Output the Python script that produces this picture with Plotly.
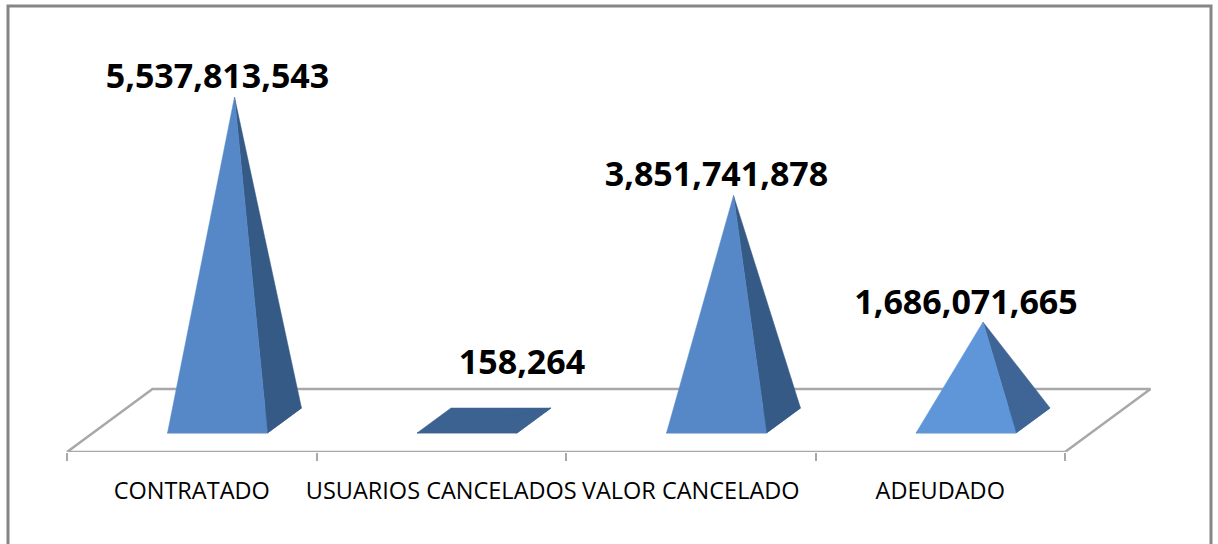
import plotly.graph_objects as go

# data
categories = ["CONTRATADO", "USUARIOS CANCELADOS", "VALOR CANCELADO", "ADEUDADO"]
values = [5537813543, 158264, 3851741878, 1686071665]

# styling
front_colors = ["#5688C8", "#3B6291", "#5688C8", "#5F96DA"]
side_colors = ["#355A86", "#3B6291", "#355A86", "#3F6596"]
label_shift_px = [(-17, 18), (38, 55), (-17, 18), (-17, 17)]

W, H = 1218, 544
AXIS_LEFT, AXIS_RIGHT, AXIS_BOTTOM, ZERO_PX = 67, 1065, 452, 420.5
PX_PER_CAT = (AXIS_RIGHT - AXIS_LEFT) / len(categories)
VAL_PER_PX = 1e6 / 0.0584


def dx(px):
    return px / PX_PER_CAT


def dy(px):
    return px * VAL_PER_PX


n = len(categories)
SKEW_X, SKEW_Y = dx(42.75), dy(31.5)
HALF_W, BASE_DX, BASE_DY = dx(50), dx(17), dy(12.5)

fig = go.Figure()


def poly(xs, ys, fill, line=None):
    fig.add_trace(go.Scatter(
        x=xs + xs[:1], y=ys + ys[:1], mode="lines", fill="toself", fillcolor=fill,
        line=dict(color=line or fill, width=2.5 if line else 0.5),
        hoverinfo="skip", showlegend=False))


# floor
poly([0, n, n + 2 * SKEW_X, 2 * SKEW_X], [-SKEW_Y, -SKEW_Y, SKEW_Y, SKEW_Y], "white", "#A8A8A8")

# pyramids
for i, v in enumerate(values):
    cx = i + 0.5 + SKEW_X
    fl, fr = cx - BASE_DX - HALF_W, cx - BASE_DX + HALF_W
    bl, br = cx + BASE_DX - HALF_W, cx + BASE_DX + HALF_W
    poly([fl, fr, br, bl], [-BASE_DY, -BASE_DY, BASE_DY, BASE_DY], side_colors[i])
    poly([fr, br, cx], [-BASE_DY, BASE_DY, v], side_colors[i])
    poly([fl, fr, cx], [-BASE_DY, -BASE_DY, v], front_colors[i])

# data labels
fig.add_trace(go.Scatter(
    x=[i + 0.5 + SKEW_X + dx(label_shift_px[i][0]) for i in range(n)],
    y=[v + dy(label_shift_px[i][1]) for i, v in enumerate(values)],
    mode="text", text=[f"{v:,}" for v in values], textposition="middle center",
    textfont=dict(family="Open Sans", size=34, color="black", weight="bold"),
    hoverinfo="skip", showlegend=False, cliponaxis=False))

fig.update_layout(
    width=W, height=H, margin=dict(l=0, r=0, t=0, b=H - AXIS_BOTTOM, pad=0, autoexpand=False),
    paper_bgcolor="white", plot_bgcolor="white",
    xaxis=dict(
        range=[dx(-AXIS_LEFT), dx(W - AXIS_LEFT)], showgrid=False, zeroline=False, showline=False,
        tickmode="array", tickvals=[i + 0.5 for i in range(n)], ticktext=categories,
        ticks="outside", ticklen=18, tickcolor="rgba(0,0,0,0)",
        tickfont=dict(family="Open Sans", size=23.5, color="black"),
        minor=dict(tickmode="array", tickvals=list(range(n + 1)), ticks="outside",
                   ticklen=8, tickwidth=2, tickcolor="#A8A8A8", showgrid=False),
    ),
    yaxis=dict(range=[dy(ZERO_PX - AXIS_BOTTOM), dy(ZERO_PX)], visible=False),
    shapes=[dict(type="rect", xref="paper", yref="paper", x0=8 / W, x1=1211 / W,
                 y0=-120 / AXIS_BOTTOM, y1=(AXIS_BOTTOM - 6) / AXIS_BOTTOM,
                 line=dict(color="#868686", width=3), fillcolor="rgba(0,0,0,0)", layer="below")],
)
fig.write_html("out.html", config=dict(displayModeBar=False),
               post_script="document.body.style.margin='0';document.body.style.overflow='hidden';")
